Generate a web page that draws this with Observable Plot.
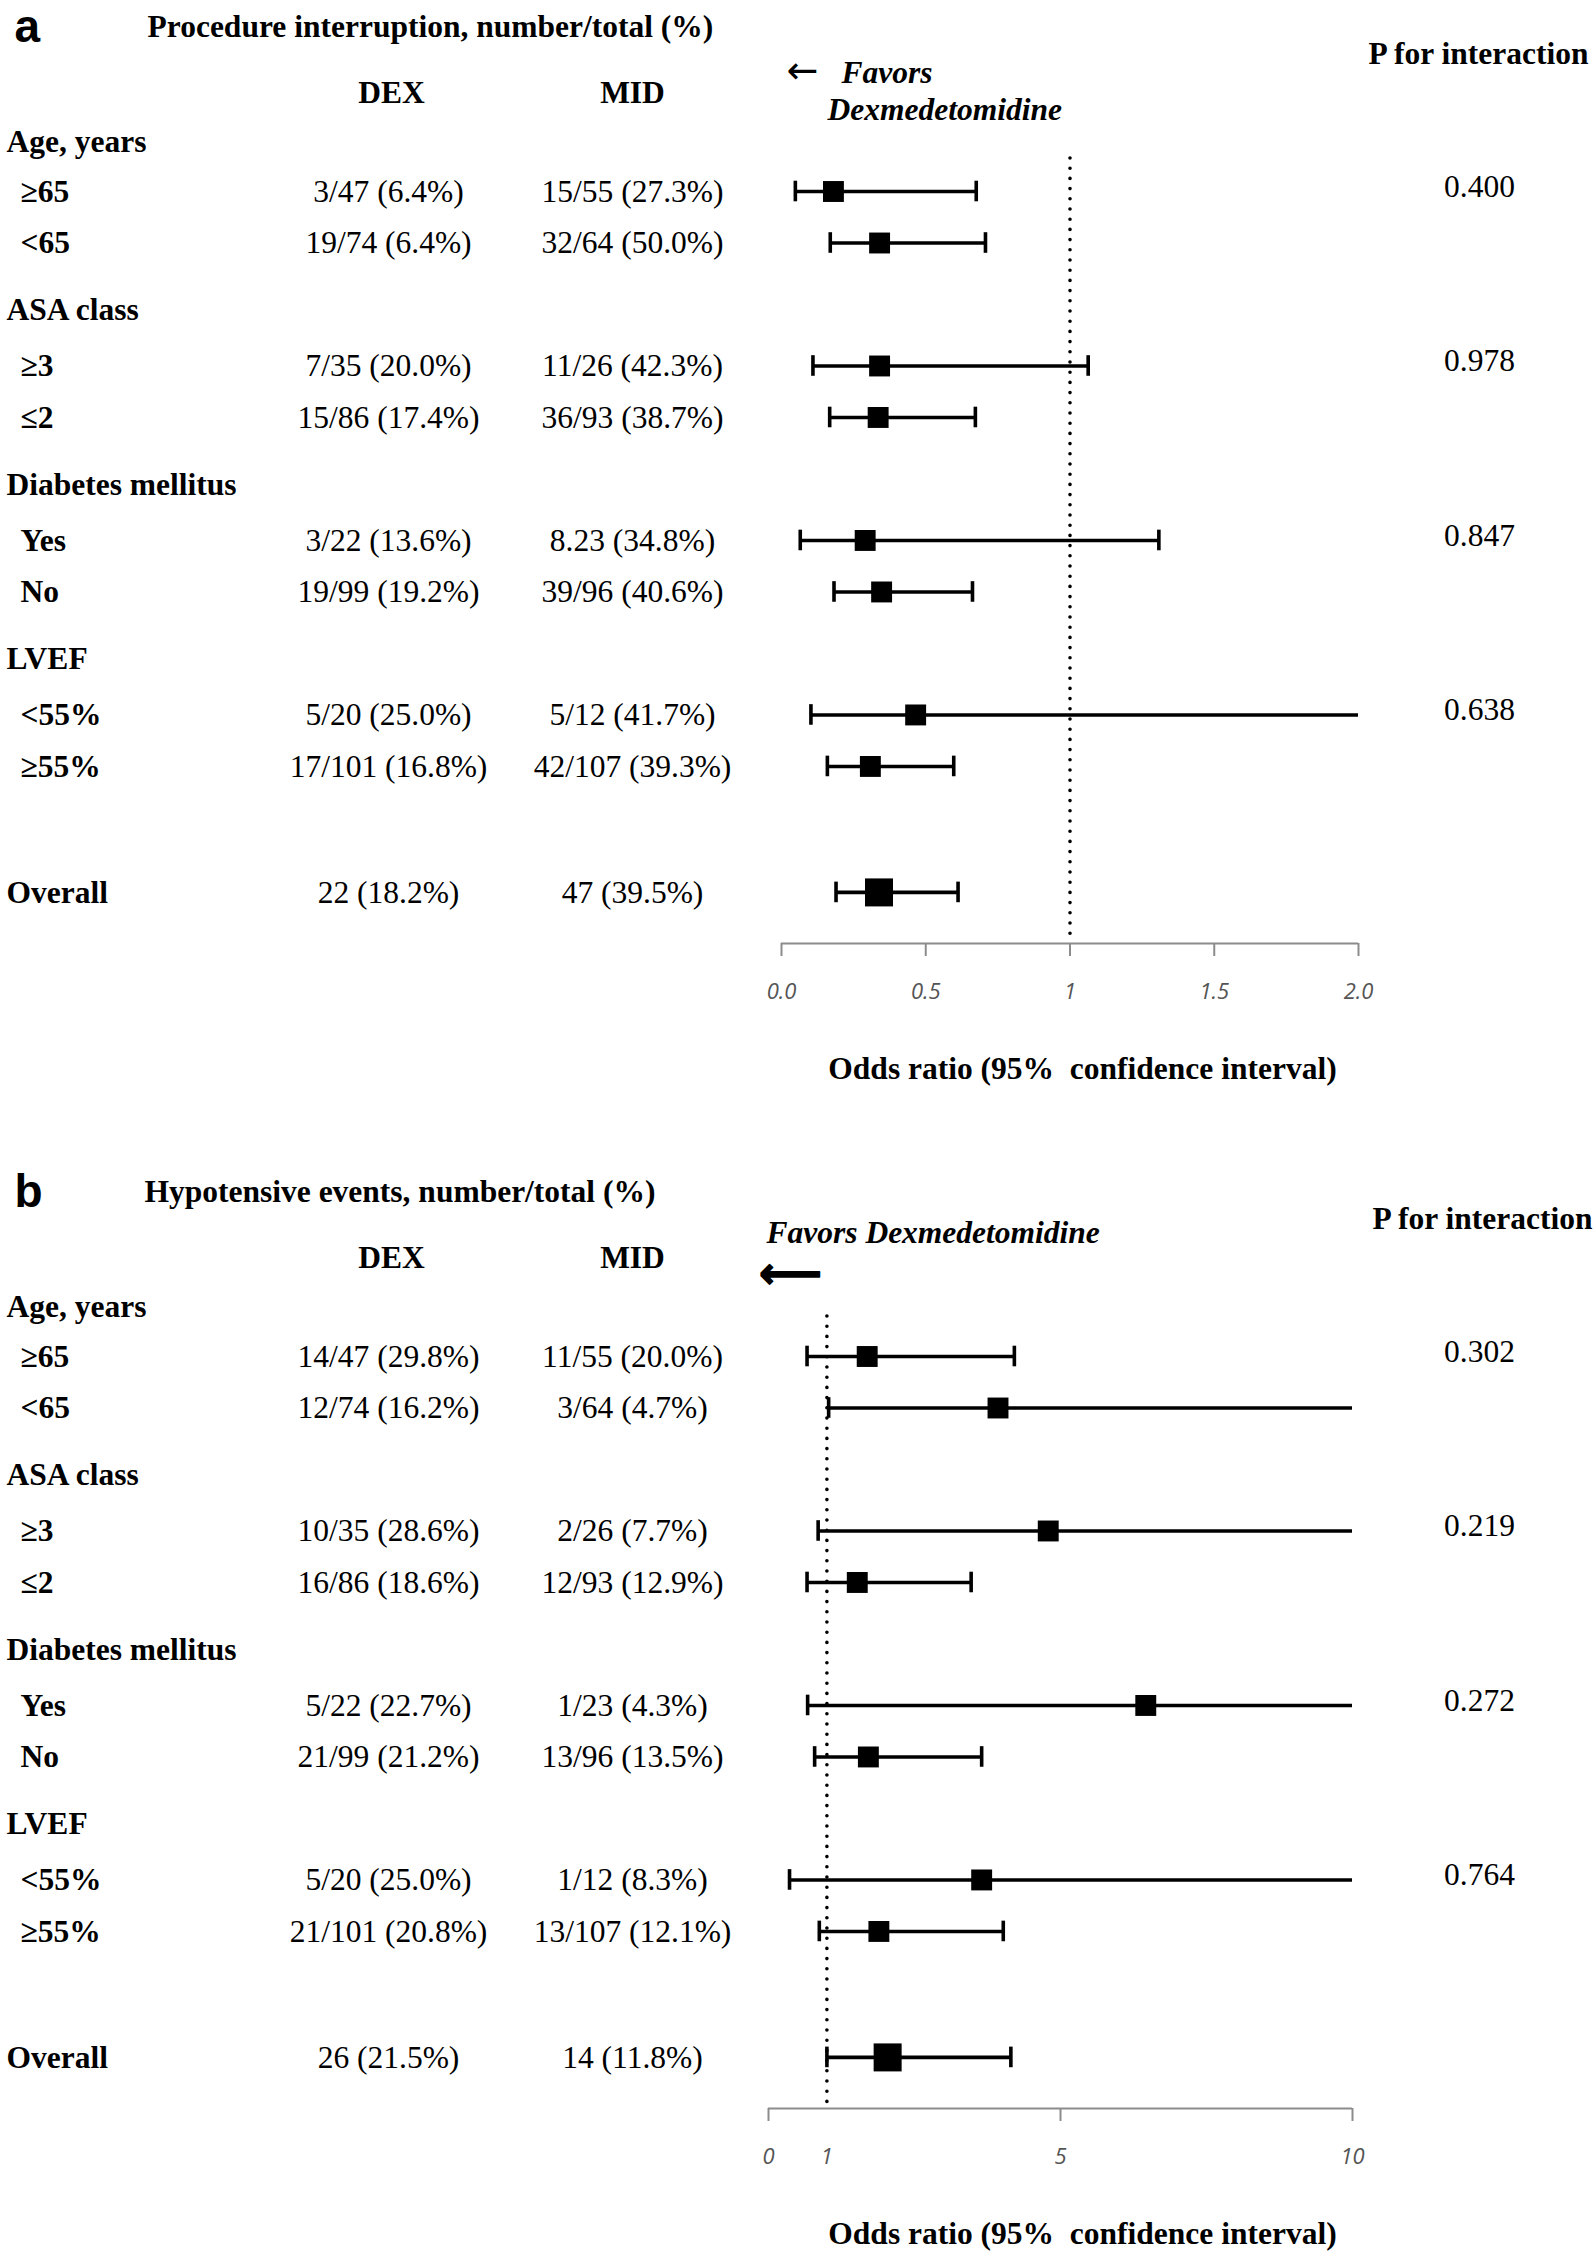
<!DOCTYPE html>
<html><head><meta charset="utf-8">
<script src="https://cdn.jsdelivr.net/npm/d3@7"></script>
<script src="https://cdn.jsdelivr.net/npm/@observablehq/plot@0.6"></script>
<style>
body{margin:0;background:#fff;}
#chart svg{display:block;}
</style></head><body><div id="chart"></div>
<script>
// ---------- data ----------
const groups = ["Age, years", "ASA class", "Diabetes mellitus", "LVEF"];
const subgroups = [["≥65", "<65"], ["≥3", "≤2"], ["Yes", "No"], ["<55%", "≥55%"]];
const overallLabel = "Overall";
const colHeaders = ["DEX", "MID"];
const pHeader = "P for interaction";
const axisTitle = "Odds ratio (95%\u00A0 confidence interval)";

// panel a
const titleA = "Procedure interruption, number/total (%)";
const dexA = ["3/47 (6.4%)", "19/74 (6.4%)", "7/35 (20.0%)", "15/86 (17.4%)", "3/22 (13.6%)", "19/99 (19.2%)", "5/20 (25.0%)", "17/101 (16.8%)", "22 (18.2%)"];
const midA = ["15/55 (27.3%)", "32/64 (50.0%)", "11/26 (42.3%)", "36/93 (38.7%)", "8.23 (34.8%)", "39/96 (40.6%)", "5/12 (41.7%)", "42/107 (39.3%)", "47 (39.5%)"];
const orA = [0.18, 0.34, 0.34, 0.335, 0.29, 0.347, 0.465, 0.308, 0.338];
const loA = [0.048, 0.169, 0.109, 0.167, 0.065, 0.182, 0.102, 0.159, 0.189];
const hiA = [0.675, 0.707, 1.063, 0.672, 1.308, 0.662, 2.0, 0.597, 0.612];
const pA = ["0.400", "0.978", "0.847", "0.638"];
const tickValsA = [0, 0.5, 1, 1.5, 2];
const tickLabelsA = ["0.0", "0.5", "1", "1.5", "2.0"];
const tickMarksA = [0, 0.5, 1, 1.5, 2];
const favorsA = ["←", "Favors", "Dexmedetomidine"];

// panel b
const titleB = "Hypotensive events, number/total (%)";
const dexB = ["14/47 (29.8%)", "12/74 (16.2%)", "10/35 (28.6%)", "16/86 (18.6%)", "5/22 (22.7%)", "21/99 (21.2%)", "5/20 (25.0%)", "21/101 (20.8%)", "26 (21.5%)"];
const midB = ["11/55 (20.0%)", "3/64 (4.7%)", "2/26 (7.7%)", "12/93 (12.9%)", "1/23 (4.3%)", "13/96 (13.5%)", "1/12 (8.3%)", "13/107 (12.1%)", "14 (11.8%)"];
const orB = [1.69, 3.93, 4.79, 1.52, 6.46, 1.71, 3.65, 1.89, 2.04];
const loB = [0.66, 1.03, 0.85, 0.66, 0.67, 0.79, 0.36, 0.87, 1.0];
const hiB = [4.21, 10, 10, 3.47, 10, 3.65, 10, 4.02, 4.15];
const pB = ["0.302", "0.219", "0.272", "0.764"];
const tickValsB = [0, 1, 5, 10];
const tickLabelsB = ["0", "1", "5", "10"];
const tickMarksB = [0, 5, 10];
const favorsB = ["⟵", "Favors Dexmedetomidine"];

// ---------- layout ----------
const L = {rowTop: 191, unit: 51.5, axisPx: 943, groupStep: 3.388, headerOffset: 1.08, overallPos: 13.61,
  labelX: 6, subX: 20, dexX: 388, midX: 632, pX: 1479, letterX: 14};
const u = px => (px - L.rowTop) / L.unit;
const axisU = u(L.axisPx);
const serif = "'Liberation Serif', 'Times New Roman', serif";

function panel(p) {
  const xmax = p.domain[1];
  const rows = [];
  groups.forEach((g, gi) => subgroups[gi].forEach((s, k) => {
    const i = gi * 2 + k;
    rows.push({label: s, pos: gi * L.groupStep + k, dex: p.dex[i], mid: p.mid[i], or: p.or[i], lo: p.lo[i], hi: p.hi[i], overall: false});
  }));
  rows.push({label: overallLabel, pos: L.overallPos, dex: p.dex[8], mid: p.mid[8], or: p.or[8], lo: p.lo[8], hi: p.hi[8], overall: true});
  const heads = groups.map((g, gi) => ({label: g, pos: gi * L.groupStep - L.headerOffset + (gi === 0 ? 0.12 : 0)}));
  const pRows = p.pvals.map((v, gi) => ({label: v, pos: gi * L.groupStep}));
  const caps = rows.flatMap(r => r.hi < xmax ? [{x: r.lo, pos: r.pos}, {x: r.hi, pos: r.pos}] : [{x: r.lo, pos: r.pos}]);
  const ml = p.marginLeft;
  const left = (px) => px - ml;

  const marks = [
    Plot.ruleY([axisU], {stroke: "#8c8c8c", strokeWidth: 2}),
    Plot.axisX({ticks: p.tickMarks, tickSize: 13, tickFormat: () => "", stroke: "#8c8c8c", strokeWidth: 2}),
    Plot.text(p.tickVals, {x: d => d, frameAnchor: "bottom", dy: 55, text: (d, i) => p.tickLabels[i],
      fontFamily: "'Open Sans', sans-serif", fontStyle: "italic", fontSize: 22, fill: "#555"}),
    Plot.text([axisTitle], {frameAnchor: "bottom", dy: 135, dx: 1082 - (ml + (1595 - p.marginRight)) / 2, text: d => d, fontWeight: "bold"}),
    Plot.ruleX([1], {y1: u(p.dotTopPx), y2: axisU, stroke: "#000", strokeWidth: 3.6, strokeDasharray: "0 10.2", strokeLinecap: "round"}),
    Plot.ruleY(rows, {y: "pos", x1: "lo", x2: "hi", stroke: "#000", strokeWidth: 3.6}),
    Plot.ruleX(caps, {x: "x", y1: d => d.pos - 0.2, y2: d => d.pos + 0.2, stroke: "#000", strokeWidth: 3.6}),
    Plot.dot(rows.filter(r => !r.overall), {x: "or", y: "pos", symbol: "square", r: 11.8, fill: "#000"}),
    Plot.dot(rows.filter(r => r.overall), {x: "or", y: "pos", symbol: "square", r: 15.8, fill: "#000"}),
    // table
    Plot.text(heads, {y: "pos", text: "label", frameAnchor: "left", dx: left(L.labelX), textAnchor: "start", fontWeight: "bold"}),
    Plot.text(rows.filter(r => !r.overall), {y: "pos", text: "label", frameAnchor: "left", dx: left(L.subX), textAnchor: "start", fontWeight: "bold"}),
    Plot.text(rows.filter(r => r.overall), {y: "pos", text: "label", frameAnchor: "left", dx: left(L.labelX), textAnchor: "start", fontWeight: "bold"}),
    Plot.text(rows, {y: "pos", text: "dex", frameAnchor: "left", dx: left(L.dexX), textAnchor: "middle"}),
    Plot.text(rows, {y: "pos", text: "mid", frameAnchor: "left", dx: left(L.midX), textAnchor: "middle"}),
    Plot.text(pRows, {y: "pos", text: "label", frameAnchor: "left", dx: left(L.pX), dy: -5, textAnchor: "middle"}),
    // headers
    Plot.text([p.letter], {y: u(27), text: d => d, frameAnchor: "left", dx: left(L.letterX), textAnchor: "start",
      fontFamily: "'Liberation Sans', Arial, sans-serif", fontWeight: "bold", fontSize: 46}),
    Plot.text([p.title], {y: u(26), text: d => d, frameAnchor: "left", dx: left(p.titleX), textAnchor: "start", fontWeight: "bold"}),
    Plot.text([colHeaders[0]], {y: u(92), text: d => d, frameAnchor: "left", dx: left(391), textAnchor: "middle", fontWeight: "bold"}),
    Plot.text([colHeaders[1]], {y: u(92), text: d => d, frameAnchor: "left", dx: left(632), textAnchor: "middle", fontWeight: "bold"}),
    Plot.text([pHeader], {y: u(53), text: d => d, frameAnchor: "left", dx: left(p.pHeadX), textAnchor: "middle", fontWeight: "bold"}),
    ...p.favorsMarks(left)
  ];
  return Plot.plot({
    width: 1595, height: p.height,
    marginLeft: ml, marginRight: p.marginRight, marginTop: L.rowTop, marginBottom: p.height - L.axisPx,
    x: {domain: p.domain},
    y: {domain: [0, axisU], reverse: true, axis: null},
    style: {fontFamily: serif, fontSize: "31.5px", background: "#fff", color: "#000", overflow: "visible"},
    marks
  });
}

const chart = document.getElementById("chart");
chart.appendChild(panel({
  letter: "a", title: titleA, titleX: 147, pHeadX: 1478,
  dex: dexA, mid: midA, or: orA, lo: loA, hi: hiA, pvals: pA,
  domain: [0, 2], tickVals: tickValsA, tickLabels: tickLabelsA, tickMarks: tickMarksA,
  marginLeft: 781, marginRight: 1595 - 1358, height: 1165, dotTopPx: 158,
  favorsMarks: (left) => [
    Plot.text([favorsA[0]], {y: u(70), text: d => d, frameAnchor: "left", dx: left(802), textAnchor: "middle", fontFamily: "'DejaVu Sans', sans-serif", fontSize: 38}),
    Plot.text([favorsA[1]], {y: u(72), text: d => d, frameAnchor: "left", dx: left(841), textAnchor: "start", fontWeight: "bold", fontStyle: "italic"}),
    Plot.text([favorsA[2]], {y: u(109), text: d => d, frameAnchor: "left", dx: left(827), textAnchor: "start", fontWeight: "bold", fontStyle: "italic"})
  ]
}));
chart.appendChild(panel({
  letter: "b", title: titleB, titleX: 144, pHeadX: 1482,
  dex: dexB, mid: midB, or: orB, lo: loB, hi: hiB, pvals: pB,
  domain: [0, 10], tickVals: tickValsB, tickLabels: tickLabelsB, tickMarks: tickMarksB,
  marginLeft: 768, marginRight: 1595 - 1352, height: 1091, dotTopPx: 151,
  favorsMarks: (left) => [
    Plot.text([favorsB[1]], {y: u(67), text: d => d, frameAnchor: "left", dx: left(766), textAnchor: "start", fontWeight: "bold", fontStyle: "italic"}),
    Plot.text([favorsB[0]], {y: u(108), text: d => d, frameAnchor: "left", dx: left(790), textAnchor: "middle", fontFamily: "'DejaVu Sans', sans-serif", fontWeight: "bold", fontSize: 44, fill: "#000", stroke: "#000", strokeWidth: 1.4})
  ]
}));
</script></body></html>
